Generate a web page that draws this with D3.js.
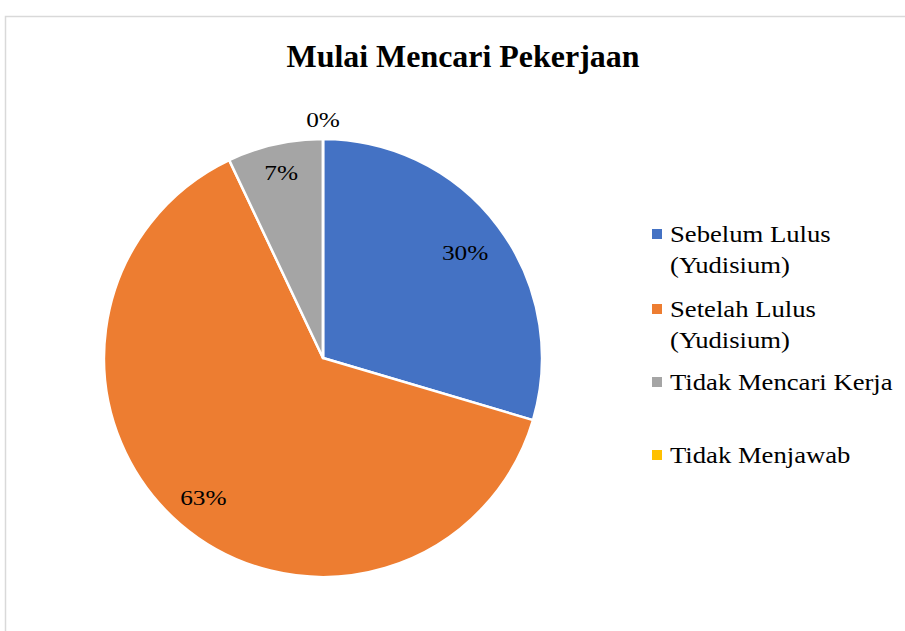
<!DOCTYPE html>
<html>
<head>
<meta charset="utf-8">
<script src="https://cdn.jsdelivr.net/npm/d3@7"></script>
<style>
  body { margin: 0; background: #fff; }
</style>
</head>
<body>
<svg width="905" height="631"></svg>
<script>
const serif = "'Liberation Serif', 'Times New Roman', Times, serif";
const categories = ["Sebelum Lulus (Yudisium)", "Setelah Lulus (Yudisium)", "Tidak Mencari Kerja", "Tidak Menjawab"];
const legendLines = [["Sebelum Lulus", "(Yudisium)"], ["Setelah Lulus", "(Yudisium)"], ["Tidak Mencari Kerja"], ["Tidak Menjawab"]];
const counts = [21, 45, 5, 0];
const colors = ["#4472c4", "#ed7d31", "#a5a5a5", "#ffc000"];
const labelRadius = [0.81, 0.84, 0.87, 1.09];

const svg = d3.select("svg");

// chart frame
svg.append("rect")
  .attr("x", 5.5).attr("y", 16.5)
  .attr("width", 940).attr("height", 640)
  .attr("fill", "#fff")
  .attr("stroke", "#d9d9d9")
  .attr("stroke-width", 1.5);

svg.append("text")
  .attr("x", 463).attr("y", 67)
  .attr("text-anchor", "middle")
  .attr("font-family", serif)
  .attr("font-size", 31)
  .attr("font-weight", "bold")
  .attr("textLength", 353)
  .attr("lengthAdjust", "spacingAndGlyphs")
  .text("Mulai Mencari Pekerjaan");

const cx = 323, cy = 358, r = 219;
const total = d3.sum(counts);

const pie = d3.pie().sort(null).value(d => d)(counts);
const arc = d3.arc().innerRadius(0).outerRadius(r);

const g = svg.append("g").attr("transform", `translate(${cx},${cy})`);

g.selectAll("path.slice")
  .data(pie)
  .enter().append("path")
  .attr("class", "slice")
  .attr("d", arc)
  .attr("fill", (d, i) => colors[i])
  .attr("stroke", "#fff")
  .attr("stroke-width", 2.5)
  .attr("stroke-linejoin", "round");

// the source image is stretched sideways a little, so text is too
g.selectAll("text.lbl")
  .data(pie)
  .enter().append("text")
  .attr("class", "lbl")
  .attr("transform", (d, i) => {
    const a = (d.startAngle + d.endAngle) / 2;
    const rr = r * labelRadius[i];
    return `translate(${Math.sin(a) * rr},${-Math.cos(a) * rr}) scale(1.15,1)`;
  })
  .attr("text-anchor", "middle")
  .attr("dy", "0.35em")
  .attr("font-family", serif)
  .attr("font-size", 22)
  .attr("fill", "#000")
  .text(d => Math.round(d.data / total * 100) + "%");

// legend
const legendY = [234, 309, 382, 455];
categories.forEach((c, i) => {
  const row = svg.append("g").attr("transform", `translate(652,${legendY[i]})`);
  row.append("rect")
    .attr("x", 0).attr("y", -5)
    .attr("width", 10).attr("height", 10)
    .attr("fill", colors[i]);
  const t = row.append("text")
    .attr("transform", "translate(18,0) scale(1.16,1)")
    .attr("font-family", serif)
    .attr("font-size", 23)
    .attr("fill", "#000");
  legendLines[i].forEach((line, j) => {
    t.append("tspan").attr("x", 0).attr("dy", j === 0 ? "0.35em" : 31).text(line);
  });
});
</script>
</body>
</html>
